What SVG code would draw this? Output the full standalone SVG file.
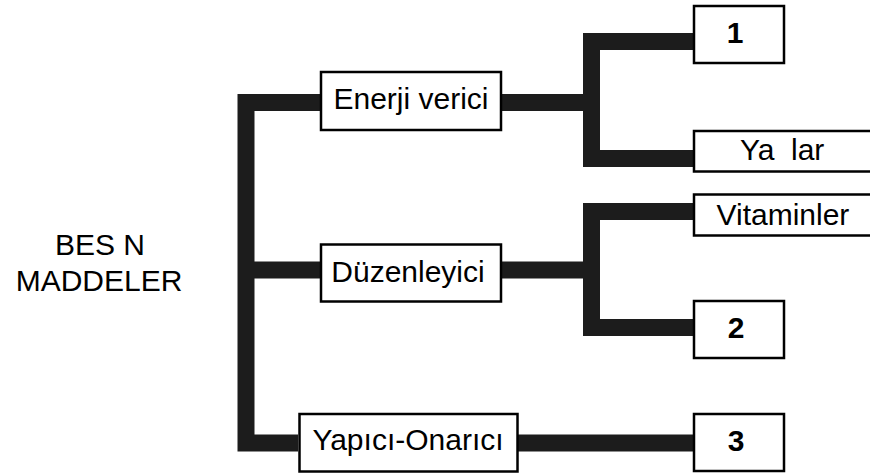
<svg xmlns="http://www.w3.org/2000/svg" width="870" height="476" viewBox="0 0 870 476">
<style>
.bar{fill:none;stroke:#1c1c1c;stroke-width:17;stroke-linejoin:miter;stroke-linecap:butt}
.box{fill:#fff;stroke:#000;stroke-width:2.5}
.t{font-family:"Liberation Sans",Arial,sans-serif;font-size:30px;fill:#000}
.c{text-anchor:middle}
.b{font-weight:bold;font-size:30px}
</style>
<rect width="870" height="476" fill="#fff"/>
<g id="connectors">
<path class="bar" d="M320,102.5 H246 V443 H298"/>
<path class="bar" d="M246,270 H320"/>
<path class="bar" d="M502,102.5 H591.5"/>
<path class="bar" d="M693,41.5 H591.5 V158.5 H693"/>
<path class="bar" d="M502,270 H591.5"/>
<path class="bar" d="M693,211.5 H591.5 V327.5 H693"/>
<path class="bar" d="M518,443 H693"/>
</g>
<g id="root">
<text class="t c" x="100" y="255">BES N</text>
<text class="t c" x="99" y="291">MADDELER</text>
</g>
<g id="enerji">
<rect class="box" x="321" y="72" width="180" height="58"/>
<text class="t c" x="411" y="109">Enerji verici</text>
</g>
<g id="duzenleyici">
<rect class="box" x="321" y="244.5" width="180" height="57"/>
<text class="t c" x="408" y="281.5">Düzenleyici</text>
</g>
<g id="yapici">
<rect class="box" x="299.5" y="414" width="218" height="57.5"/>
<text class="t c" x="408" y="450">Yapıcı-Onarıcı</text>
</g>
<g id="n1">
<rect class="box" x="694" y="6" width="90" height="57"/>
<text class="t c b" x="735" y="43">1</text>
</g>
<g id="yaglar">
<rect class="box" x="694" y="131" width="190" height="40.5"/>
<text class="t" x="740" y="160">Ya<tspan x="791">lar</tspan></text>
</g>
<g id="vitaminler">
<rect class="box" x="694" y="194.5" width="190" height="41"/>
<text class="t" x="716.5" y="225">Vitaminler</text>
</g>
<g id="n2">
<rect class="box" x="694" y="301" width="90" height="57"/>
<text class="t c b" x="736" y="338">2</text>
</g>
<g id="n3">
<rect class="box" x="694" y="414" width="90" height="57"/>
<text class="t c b" x="736" y="451">3</text>
</g>
</svg>
